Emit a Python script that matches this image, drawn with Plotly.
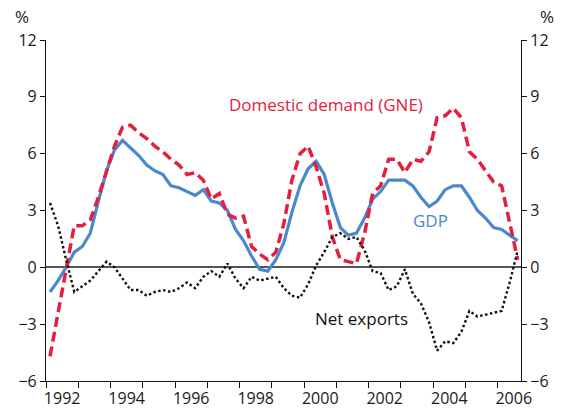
import pandas as pd
import plotly.graph_objects as go

# Quarterly data, 1992 Q1 onwards (year-ended growth, %)
start_quarter = "1992Q1"
gdp = [-1.3, -0.7, 0.0, 0.8, 1.1, 1.8, 3.5, 5.1, 6.2, 6.7, 6.3, 5.9, 5.4, 5.1, 4.9,
       4.3, 4.2, 4.0, 3.8, 4.1, 3.5, 3.4, 3.0, 2.0, 1.4, 0.6, -0.1, -0.2, 0.4, 1.3,
       2.9, 4.3, 5.2, 5.6, 4.9, 3.4, 2.1, 1.7, 1.8, 2.6, 3.6, 4.0, 4.6, 4.6, 4.6,
       4.3, 3.7, 3.2, 3.5, 4.1, 4.3, 4.3, 3.7, 3.0, 2.6, 2.1, 2.0, 1.7, 1.4]
gne = [-4.7, -2.4, -0.1, 2.2, 2.2, 2.5, 3.7, 5.0, 6.4, 7.4, 7.5, 7.1, 6.8, 6.4, 6.1,
       5.7, 5.4, 4.9, 5.0, 4.6, 3.6, 3.9, 2.8, 2.6, 2.7, 1.1, 0.7, 0.4, 0.8, 2.3,
       4.6, 6.0, 6.4, 5.3, 3.9, 1.6, 0.4, 0.3, 0.2, 1.8, 3.9, 4.3, 5.7, 5.7, 5.0,
       5.7, 5.6, 6.1, 7.9, 8.0, 8.4, 7.9, 6.1, 5.7, 5.1, 4.5, 4.3, 2.3, 0.4]
net_exports = [3.4, 2.2, 0.4, -1.3, -1.0, -0.7, -0.2, 0.3, 0.0, -0.6, -1.2, -1.2, -1.5, -1.3, -1.2,
               -1.3, -1.1, -0.8, -1.1, -0.5, -0.2, -0.5, 0.2, -0.6, -1.1, -0.5, -0.7, -0.6, -0.5, -1.1,
               -1.5, -1.6, -0.9, 0.1, 0.8, 1.6, 1.8, 1.5, 1.6, 0.9, -0.2, -0.3, -1.2, -1.0, -0.1,
               -1.4, -1.9, -2.9, -4.4, -3.9, -4.0, -3.4, -2.3, -2.6, -2.5, -2.4, -2.3, -0.8, 0.9]
year_labels = ["1992", "1994", "1996", "1998", "2000", "2002", "2004", "2006"]
y_ticks = [-6, -3, 0, 3, 6, 9, 12]

periods = pd.period_range(start_quarter, periods=len(gdp), freq="Q")
dates = [p.start_time + (p.end_time - p.start_time) / 2 for p in periods]
# year labels are centred within their calendar year
label_pos = [pd.Timestamp(f"{y}-07-02") for y in year_labels]

RED = "#E3203F"
BLUE = "#4A89CB"
FONT = "Open Sans"
FS = 16

fig = go.Figure()
fig.add_trace(go.Scatter(x=dates, y=gdp, mode="lines", name="GDP",
                         line=dict(color=BLUE, width=3.2)))
fig.add_trace(go.Scatter(x=dates, y=gne, mode="lines", name="Domestic demand (GNE)",
                         line=dict(color=RED, width=3.5, dash="10px,5px")))
fig.add_trace(go.Scatter(x=dates, y=net_exports, mode="lines", name="Net exports",
                         line=dict(color="#111111", width=2.4, dash="2.5px,2.5px"),
                         yaxis="y2"))

axis_font = dict(family=FONT, size=FS, color="#1a1a1a")

fig.update_layout(
    width=564, height=410,
    margin=dict(l=46, r=43, t=40, b=29, autoexpand=False),
    paper_bgcolor="white", plot_bgcolor="white",
    showlegend=False,
    font=dict(family=FONT, size=FS, color="#1a1a1a"),
    xaxis=dict(
        type="date", automargin=False,
        range=["1992-01-01", "2006-09-22"],
        tickvals=label_pos, ticktext=year_labels, tickangle=0,
        ticks="outside", ticklen=3, tickcolor="rgba(0,0,0,0)",
        minor=dict(dtick="M12", tick0="1992-01-01", ticks="outside",
                   ticklen=6, tickwidth=1.2, tickcolor="#111", showgrid=False),
        showline=True, linecolor="#111", linewidth=1.2,
        showgrid=False, zeroline=False,
        tickfont=axis_font,
    ),
    yaxis=dict(
        automargin=False,
        range=[-6, 12], tickvals=y_ticks,
        ticks="outside", ticklen=5, tickwidth=1.2, tickcolor="#111",
        showline=True, linecolor="#111", linewidth=1.2,
        showgrid=False,
        zeroline=True, zerolinecolor="#555555", zerolinewidth=1.6,
        tickfont=axis_font,
    ),
    yaxis2=dict(
        automargin=False,
        range=[-6, 12], tickvals=y_ticks, overlaying="y", side="right",
        ticks="outside", ticklen=5, tickwidth=1.2, tickcolor="#111",
        showline=True, linecolor="#111", linewidth=1.2,
        showgrid=False, zeroline=False,
        tickfont=axis_font,
    ),
)

annotations = [
    dict(text="%", xref="paper", yref="paper", x=-0.05, y=1.07, showarrow=False,
         font=dict(family=FONT, size=17, color="#1a1a1a"), xanchor="center", yanchor="middle"),
    dict(text="%", xref="paper", yref="paper", x=1.055, y=1.07, showarrow=False,
         font=dict(family=FONT, size=17, color="#1a1a1a"), xanchor="center", yanchor="middle"),
    dict(text="Domestic demand (GNE)", xref="x", yref="y", x="2000-09-09", y=8.6,
         showarrow=False, font=dict(family=FONT, size=17, color=RED)),
    dict(text="GDP", xref="x", yref="y", x="2003-11-28", y=2.45,
         showarrow=False, font=dict(family=FONT, size=17, color=BLUE)),
    dict(text="Net exports", xref="x", yref="y", x="2001-10-08", y=-2.7,
         showarrow=False, font=dict(family=FONT, size=17, color="#111111")),
]
fig.update_layout(annotations=annotations)

fig.write_html("out.html",
               config={"displayModeBar": False},
               post_script="document.body.style.margin='0';document.body.style.overflow='hidden';")
